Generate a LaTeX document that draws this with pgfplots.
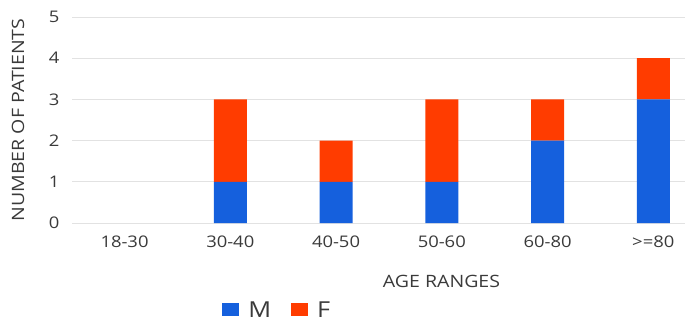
\documentclass[border=0pt]{standalone}
\usepackage{fontspec}
\setmainfont{Open Sans}[FakeStretch=1.15]
\usepackage{pgfplots}
\pgfplotsset{compat=1.18}
\definecolor{mblue}{HTML}{1560DD}
\definecolor{forange}{HTML}{FF3C00}
\definecolor{txt}{HTML}{3A3A3A}
\definecolor{gridc}{HTML}{E2E2E2}
\begin{document}
\begin{tikzpicture}[x=1pt,y=1pt]
\useasboundingbox (-72,-98) rectangle (613,223);
\begin{axis}[
  at={(0,0)}, anchor=south west,
  scale only axis, width=613pt, height=206pt,
  ybar stacked, bar width=33pt,
  xmin=-0.4965, xmax=5.30, ymin=0, ymax=5,
  xtick={0,1,2,3,4,5},
  xticklabels={18-30,30-40,40-50,50-60,60-80,>=80},
  ytick={0,1,2,3,4,5},
  axis line style={draw=none},
  major tick length=0pt,
  ymajorgrids, grid style={gridc, line width=0.8pt},
  tick label style={font=\fontsize{16}{18}\selectfont, text=txt},
  /pgf/number format/assume math mode=true,
  xticklabel style={yshift=-9pt},
  yticklabel style={xshift=-9pt},
  xlabel={AGE RANGES}, ylabel={NUMBER OF PATIENTS},
  label style={font=\fontsize{17}{19}\selectfont, text=txt},
  xlabel style={at={(rel axis cs:0.5,0)}, anchor=center, yshift=-58pt, xshift=63pt},
  ylabel style={at={(rel axis cs:0,0.5)}, anchor=center, yshift=54pt},
  legend style={at={(rel axis cs:0.24,-0.422)}, anchor=west, draw=none, fill=none,
    legend columns=2, font=\fontsize{22}{24}\selectfont, text=txt,
    /tikz/every even column/.append style={column sep=18pt}},
  legend image code/.code={\fill[#1] (0pt,-6.5pt) rectangle (17pt,6.5pt); \path (24pt,0pt);},
]
\addplot[fill=mblue, draw=none] coordinates {(0,0) (1,1) (2,1) (3,1) (4,2) (5,3)};
\addplot[fill=forange, draw=none] coordinates {(0,0) (1,2) (2,1) (3,2) (4,1) (5,1)};
\legend{M,F}
\end{axis}
\end{tikzpicture}
\end{document}
